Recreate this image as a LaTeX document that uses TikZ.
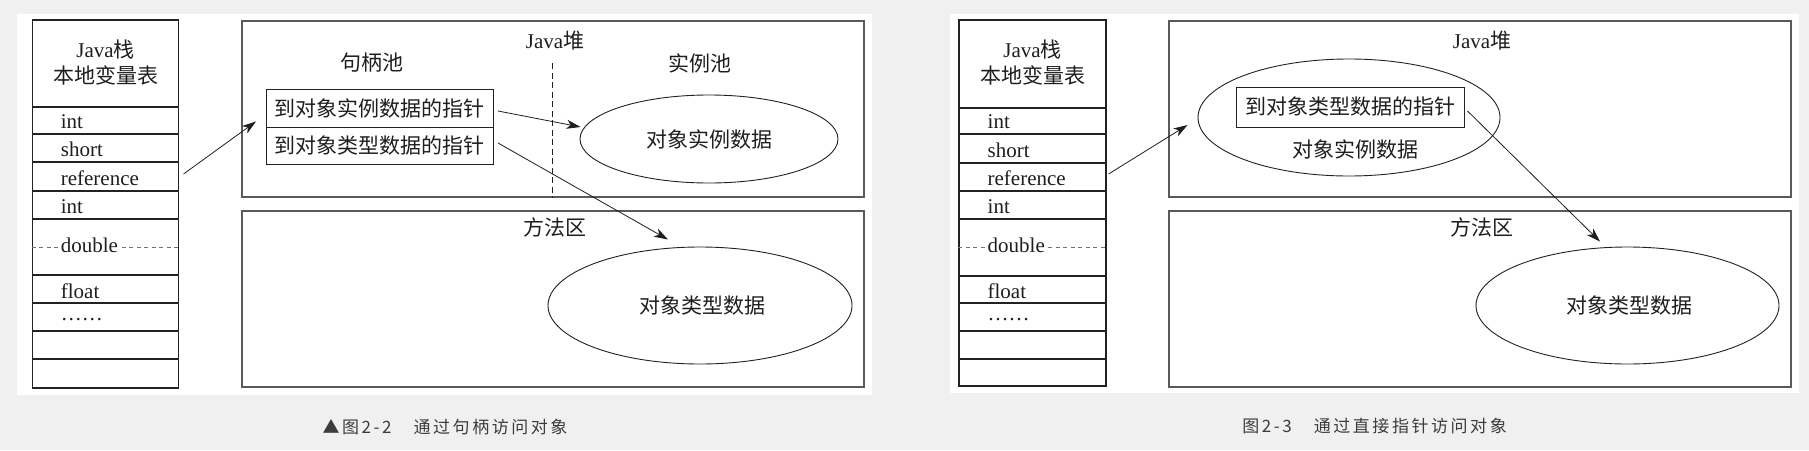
\documentclass[tikz,border=0pt]{standalone}
\usepackage{fontspec}
\setmainfont{Liberation Serif}
\newfontfamily\zhfont{Noto Sans CJK SC}
\newfontfamily\capfont[LetterSpace=15]{Noto Sans CJK SC}
\newcommand\zh[1]{{\zhfont #1}}
\usetikzlibrary{shapes.geometric,arrows.meta,calc}
\definecolor{bg}{HTML}{F0F0F0}
\definecolor{ink}{HTML}{1E1E1E}
\definecolor{tbl}{HTML}{222222}
\definecolor{boxc}{HTML}{5A5A5A}
\definecolor{capc}{HTML}{3C3C3C}
\definecolor{dashc}{HTML}{707070}
\begin{document}
\begin{tikzpicture}[x=1pt,y=-1pt,
  lbl/.style={inner sep=0pt, text=ink, font=\fontsize{21}{25}\selectfont},
  rowtxt/.style={lbl, anchor=base west},
  cellbox/.style={draw=tbl, line width=1.1pt, inner sep=0pt},
  area/.style={draw=boxc, line width=1.2pt, inner sep=0pt, minimum width=622, minimum height=176},
  ptrbox/.style={draw=tbl, line width=1pt, inner sep=0pt, text=ink, font=\fontsize{21}{25}\selectfont\zhfont},
  blob/.style={ellipse, draw=tbl, line width=0.9pt, inner sep=0pt},
  conn/.style={draw=ink, line width=0.8pt, -{Stealth[length=14pt,width=9pt,inset=4pt]}},
  caption/.style={inner sep=0pt, text=capc, font=\fontsize{17}{20}\selectfont\capfont},
  sep/.style={draw=dashc, line width=0.9pt, dash pattern=on 4pt off 3.5pt}
]
% background and panels
\useasboundingbox (0,0) rectangle (1809,450);
\fill[bg] (0,0) rectangle (1809,450);
\fill[white] (17,14) rectangle (872,395);
\fill[white] (950,14) rectangle (1799,393);

% ================= LEFT: handle access =================
% stack table
\node[cellbox, minimum width=146, minimum height=87] (LH) at (105.5,63.5) {};
\node[cellbox, minimum width=146, minimum height=27] (L1) at (105.5,120.5) {};
\node[cellbox, minimum width=146, minimum height=28] (L2) at (105.5,148) {};
\node[cellbox, minimum width=146, minimum height=29] (L3) at (105.5,176.5) {};
\node[cellbox, minimum width=146, minimum height=28] (L4) at (105.5,205) {};
\node[cellbox, minimum width=146, minimum height=56] (L5) at (105.5,247) {};
\node[cellbox, minimum width=146, minimum height=28] (L6) at (105.5,289) {};
\node[cellbox, minimum width=146, minimum height=28] (L7) at (105.5,317) {};
\node[cellbox, minimum width=146, minimum height=28] (L8) at (105.5,345) {};
\node[cellbox, minimum width=146, minimum height=29] (L9) at (105.5,373.5) {};
\node[lbl] (LHa) at ($(LH.center)+(0,-14)$) {Java\zh{栈}};
\node[lbl] (LHb) at ($(LH.center)+(0,11.5)$) {\zh{本地变量表}};
\node[rowtxt] (L1t) at ($(L1.west)+(28.7,8)$) {int};
\node[rowtxt] (L2t) at ($(L2.west)+(28.7,8.5)$) {short};
\node[rowtxt] (L3t) at ($(L3.west)+(28.7,8.5)$) {reference};
\node[rowtxt] (L4t) at ($(L4.west)+(28.7,8.5)$) {int};
\draw[sep] (L5.west) -- (L5.east);
\node[rowtxt, fill=white, inner xsep=3pt, inner ysep=1pt] (L5t) at ($(L5.west)+(25.7,5)$) {double};
\node[rowtxt] (L6t) at ($(L6.west)+(28.7,9)$) {float};
\node[rowtxt] (L7t) at ($(L7.west)+(28.7,3.5)$) {……};

% heap and method area
\node[area] (LJ) at (553,109) {};
\node[area] (LM) at (553,299) {};
\node[lbl] (LJt) at ($(LJ.north)+(2,20)$) {Java\zh{堆}};
\node[lbl] (LMt) at ($(LM.north)+(2,17)$) {\zh{方法区}};
\node[lbl] (Lpool1) at (371.5,63) {\zh{句柄池}};
\node[lbl] (Lpool2) at (700,63) {\zh{实例池}};
\coordinate (dtop) at (552.5,63);
\draw[draw=tbl, line width=0.9pt, dash pattern=on 6pt off 3.5pt] (dtop) -- (dtop |- LJ.south);

% handle table
\node[ptrbox, minimum width=227, minimum height=38] (H1) at (379.5,108) {到对象实例数据的指针};
\node[ptrbox, minimum width=227, minimum height=37] (H2) at (379.5,145.5) {到对象类型数据的指针};

% data ellipses
\node[blob, minimum width=258, minimum height=88] (E1) at (709,139) {};
\node[lbl] (E1t) at (E1.center) {\zh{对象实例数据}};
\node[blob, minimum width=304, minimum height=117] (E2) at (700,305.5) {};
\node[lbl] (E2t) at ($(E2.center)+(2,0)$) {\zh{对象类型数据}};

% connectors
\draw[conn] ($(L3.east)+(4.5,-2.5)$) -- ($(H1.south west)+(-9.5,-6)$);
\draw[conn] ($(H1.east)+(4.5,3)$) -- ($(E1.west)+(1,-12)$);
\draw[conn] ($(H2.east)+(4.5,-2.5)$) -- ($(E2.north)+(-32,-7)$);

\node[caption] (Lcap) at (445,427) {▲图2-2　通过句柄访问对象};

% ================= RIGHT: direct pointer access =================
\node[cellbox, minimum width=147, minimum height=88] (RH) at (1032.5,64) {};
\node[cellbox, minimum width=147, minimum height=26] (R1) at (1032.5,121) {};
\node[cellbox, minimum width=147, minimum height=29] (R2) at (1032.5,148.5) {};
\node[cellbox, minimum width=147, minimum height=28] (R3) at (1032.5,177) {};
\node[cellbox, minimum width=147, minimum height=28] (R4) at (1032.5,205) {};
\node[cellbox, minimum width=147, minimum height=57] (R5) at (1032.5,247.5) {};
\node[cellbox, minimum width=147, minimum height=27] (R6) at (1032.5,289.5) {};
\node[cellbox, minimum width=147, minimum height=28] (R7) at (1032.5,317) {};
\node[cellbox, minimum width=147, minimum height=28] (R8) at (1032.5,345) {};
\node[cellbox, minimum width=147, minimum height=27] (R9) at (1032.5,372.5) {};
\node[lbl] (RHa) at ($(RH.center)+(0,-14)$) {Java\zh{栈}};
\node[lbl] (RHb) at ($(RH.center)+(0,11)$) {\zh{本地变量表}};
\node[rowtxt] (R1t) at ($(R1.west)+(29,7.5)$) {int};
\node[rowtxt] (R2t) at ($(R2.west)+(29,8.5)$) {short};
\node[rowtxt] (R3t) at ($(R3.west)+(29,8)$) {reference};
\node[rowtxt] (R4t) at ($(R4.west)+(29,8.5)$) {int};
\draw[sep] (R5.west) -- (R5.east);
\node[rowtxt, fill=white, inner xsep=3pt, inner ysep=1pt] (R5t) at ($(R5.west)+(26,4.5)$) {double};
\node[rowtxt] (R6t) at ($(R6.west)+(29,8.5)$) {float};
\node[rowtxt] (R7t) at ($(R7.west)+(29,3.5)$) {……};

\node[area] (RJ) at (1480,109) {};
\node[area] (RM) at (1480,299) {};
\node[lbl] (RJt) at ($(RJ.north)+(2,20)$) {Java\zh{堆}};
\node[lbl] (RMt) at ($(RM.north)+(2,17)$) {\zh{方法区}};

\node[blob, minimum width=302, minimum height=117] (E3) at (1349,117.5) {};
\node[ptrbox, minimum width=228, minimum height=40] (P) at (1350,107) {到对象类型数据的指针};
\node[lbl] (E3t) at ($(E3.center)+(6,31.5)$) {\zh{对象实例数据}};
\node[blob, minimum width=303, minimum height=117] (E4) at (1627.5,305.5) {};
\node[lbl] (E4t) at ($(E4.center)+(2,0)$) {\zh{对象类型数据}};

\draw[conn] ($(R3.east)+(2,-3)$) -- ($(E3.west)+(-10,7.5)$);
\draw[conn] ($(P.east)+(3,4)$) -- ($(E4.north)+(-27.5,-5)$);

\node[caption] (Rcap) at (1374.5,426) {图2-3　通过直接指针访问对象};
\end{tikzpicture}
\end{document}
